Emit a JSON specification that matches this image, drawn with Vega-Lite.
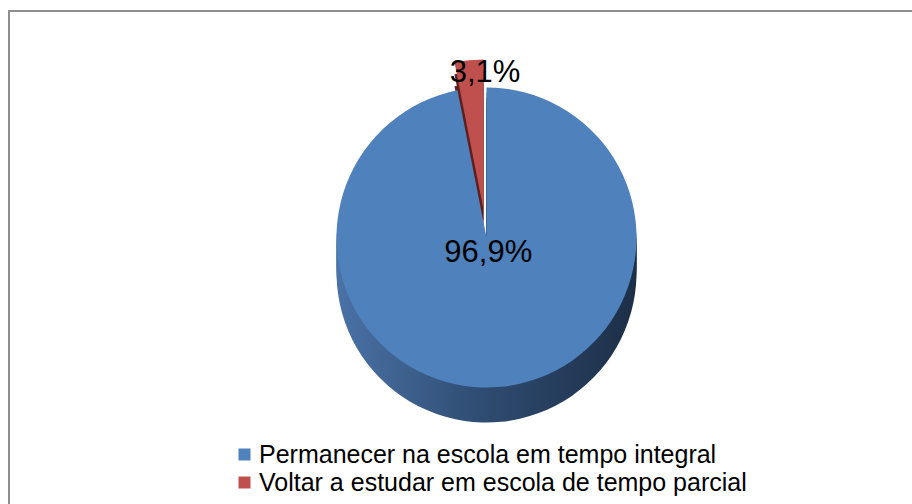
{
  "$schema": "https://vega.github.io/schema/vega-lite/v6.json",
  "autosize": "none",
  "padding": {"left": 9, "top": 11, "right": -52, "bottom": -20},
  "width": 955,
  "height": 513,
  "background": "white",
  "view": {"stroke": "#8e8e8e", "strokeWidth": 2, "fill": null},
  "data": {
    "values": [
      {"categoria": "Permanecer na escola em tempo integral", "valor": 0.969},
      {"categoria": "Voltar a estudar em escola de tempo parcial", "valor": 0.031}
    ]
  },
  "encoding": {
    "theta": {"field": "valor", "type": "quantitative", "stack": true},
    "order": {"field": "valor", "type": "quantitative", "sort": "descending"}
  },
  "layer": [
    {
      "mark": {"type": "arc", "outerRadius": 150, "yOffset": -25, "fill": {"gradient": "linear", "x1": 0, "y1": 0, "x2": 1, "y2": 0, "stops": [{"offset": 0, "color": "#4a72a6"}, {"offset": 0.5, "color": "#2e4b70"}, {"offset": 1, "color": "#1d2f47"}]}},
      "encoding": {"fillOpacity": {"condition": {"test": "datum.valor < 0.5", "value": 0}, "value": 1}}
    },
    {
      "mark": {"type": "arc", "outerRadius": 150, "yOffset": -20, "fill": {"gradient": "linear", "x1": 0, "y1": 0, "x2": 1, "y2": 0, "stops": [{"offset": 0, "color": "#4a72a6"}, {"offset": 0.5, "color": "#2e4b70"}, {"offset": 1, "color": "#1d2f47"}]}},
      "encoding": {"fillOpacity": {"condition": {"test": "datum.valor < 0.5", "value": 0}, "value": 1}}
    },
    {
      "mark": {"type": "arc", "outerRadius": 150, "yOffset": -15, "fill": {"gradient": "linear", "x1": 0, "y1": 0, "x2": 1, "y2": 0, "stops": [{"offset": 0, "color": "#4a72a6"}, {"offset": 0.5, "color": "#2e4b70"}, {"offset": 1, "color": "#1d2f47"}]}},
      "encoding": {"fillOpacity": {"condition": {"test": "datum.valor < 0.5", "value": 0}, "value": 1}}
    },
    {
      "mark": {"type": "arc", "outerRadius": 150, "yOffset": -10, "fill": {"gradient": "linear", "x1": 0, "y1": 0, "x2": 1, "y2": 0, "stops": [{"offset": 0, "color": "#4a72a6"}, {"offset": 0.5, "color": "#2e4b70"}, {"offset": 1, "color": "#1d2f47"}]}},
      "encoding": {"fillOpacity": {"condition": {"test": "datum.valor < 0.5", "value": 0}, "value": 1}}
    },
    {
      "mark": {"type": "arc", "outerRadius": 150, "yOffset": -5, "fill": {"gradient": "linear", "x1": 0, "y1": 0, "x2": 1, "y2": 0, "stops": [{"offset": 0, "color": "#4a72a6"}, {"offset": 0.5, "color": "#2e4b70"}, {"offset": 1, "color": "#1d2f47"}]}},
      "encoding": {"fillOpacity": {"condition": {"test": "datum.valor < 0.5", "value": 0}, "value": 1}}
    },
    {
      "mark": {"type": "arc", "outerRadius": 150, "yOffset": 0, "fill": {"gradient": "linear", "x1": 0, "y1": 0, "x2": 1, "y2": 0, "stops": [{"offset": 0, "color": "#4a72a6"}, {"offset": 0.5, "color": "#2e4b70"}, {"offset": 1, "color": "#1d2f47"}]}},
      "encoding": {"fillOpacity": {"condition": {"test": "datum.valor < 0.5", "value": 0}, "value": 1}}
    },
    {
      "mark": {"type": "arc", "outerRadius": 150, "yOffset": 5, "fill": {"gradient": "linear", "x1": 0, "y1": 0, "x2": 1, "y2": 0, "stops": [{"offset": 0, "color": "#4a72a6"}, {"offset": 0.5, "color": "#2e4b70"}, {"offset": 1, "color": "#1d2f47"}]}},
      "encoding": {"fillOpacity": {"condition": {"test": "datum.valor < 0.5", "value": 0}, "value": 1}}
    },
    {
      "mark": {"type": "arc", "outerRadius": 150, "yOffset": -46, "xOffset": -3, "fill": "#5e1f1f"},
      "encoding": {"fillOpacity": {"condition": {"test": "datum.valor > 0.5", "value": 0}, "value": 1}}
    },
    {
      "mark": {"type": "arc", "outerRadius": 150, "yOffset": -34, "xOffset": -3, "fill": "#5e1f1f"},
      "encoding": {"fillOpacity": {"condition": {"test": "datum.valor > 0.5", "value": 0}, "value": 1}}
    },
    {
      "mark": {"type": "arc", "outerRadius": 150, "yOffset": -30},
      "encoding": {
        "color": {"field": "categoria", "type": "nominal", "scale": {"domain": ["Permanecer na escola em tempo integral", "Voltar a estudar em escola de tempo parcial"], "range": ["#4f81bd", "#c0504d"]}, "legend": {"title": null}},
        "fillOpacity": {"condition": {"test": "datum.valor < 0.5", "value": 0}, "value": 1}
      }
    },
    {
      "mark": {"type": "arc", "outerRadius": 150, "yOffset": -58, "xOffset": -3},
      "encoding": {
        "color": {"field": "categoria", "type": "nominal"},
        "fillOpacity": {"condition": {"test": "datum.valor > 0.5", "value": 0}, "value": 1}
      }
    },
    {
      "mark": {"type": "text", "radius": 8, "yOffset": -22, "xOffset": 1, "font": "Liberation Sans", "fontSize": 31, "fill": "#000000", "align": "center", "baseline": "middle"},
      "encoding": {
        "text": {"field": "valor", "type": "quantitative", "format": ".1%"},
        "opacity": {"condition": {"test": "datum.valor < 0.5", "value": 0}, "value": 1}
      }
    },
    {
      "mark": {"type": "text", "radius": 170, "yOffset": -25, "xOffset": 15, "font": "Liberation Sans", "fontSize": 31, "fill": "#000000", "align": "center", "baseline": "middle"},
      "encoding": {
        "text": {"field": "valor", "type": "quantitative", "format": ".1%"},
        "opacity": {"condition": {"test": "datum.valor > 0.5", "value": 0}, "value": 1}
      }
    }
  ],
  "config": {
    "locale": {"number": {"decimal": ",", "thousands": ".", "grouping": [3], "currency": ["R$", ""]}},
    "font": "Liberation Sans",
    "view": {"stroke": "#8e8e8e", "strokeWidth": 2},
    "legend": {
      "orient": "none",
      "legendX": 223,
      "legendY": 431,
      "symbolType": "square",
      "symbolSize": 144,
      "symbolStrokeWidth": 0,
      "symbolOpacity": 1,
      "labelFont": "Liberation Sans",
      "labelFontSize": 25,
      "labelColor": "#000000",
      "labelLimit": 0,
      "labelOffset": 2,
      "rowPadding": 2
    }
  }
}
